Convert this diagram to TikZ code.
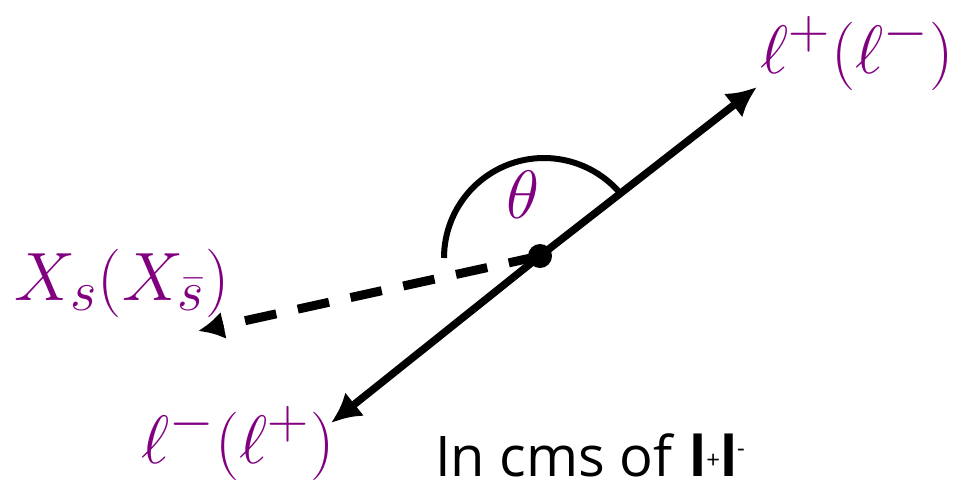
\documentclass[tikz,border=0pt]{standalone}
\usepackage{fontspec}
\usepackage{graphicx}
\newfontfamily\labelfont{Open Sans}
\usetikzlibrary{arrows.meta}
\definecolor{lab}{RGB}{128,0,128}
\tikzset{
  vec/.style={line width=7.5pt, -{Latex[length=30pt,width=30pt]}},
  dvec/.style={line width=9pt, dash pattern=on 32pt off 22pt, -{Latex[length=26pt,width=28pt]}},
  mlab/.style={text=lab, font=\Huge, inner sep=0pt},
}
\newcommand{\mylabelmath}[1]{\scalebox{2.75}{$#1$}}
\begin{document}
\begin{tikzpicture}[x=1pt,y=-1pt]
\useasboundingbox (0,0) rectangle (965,485);
\coordinate (o) at (540,256);
\coordinate (up) at (757,87);
\coordinate (dn) at (331,423);
\coordinate (xs) at (198,331);
\draw[vec] (o) -- (up);
\draw[vec] (o) -- (dn);
\draw[dvec] (o) -- (xs);
\draw[line width=6pt] (444,258) arc[start angle=180, end angle=318, radius=100] coordinate (arcend);
\fill (o) circle[radius=12];
\node[mlab] (lp) at (857,53) {\mylabelmath{\ell^{+}(\ell^{-})}};
\node[mlab] (xl) at (122,283) {\mylabelmath{X_s(X_{\bar{s}})}};
\node[mlab] (lm) at (238,443) {\mylabelmath{\ell^{-}(\ell^{+})}};
\node[mlab] (th) at (523,195) {\mylabelmath{\theta}};
\node[font=\labelfont\fontsize{56}{60}\selectfont, inner sep=0pt] (cms) at (590,455) {In cms of \textbf{l}\raisebox{8pt}{\fontsize{24}{26}\selectfont +}\textbf{l}\raisebox{20pt}{\fontsize{24}{26}\selectfont -}};
\end{tikzpicture}
\end{document}
